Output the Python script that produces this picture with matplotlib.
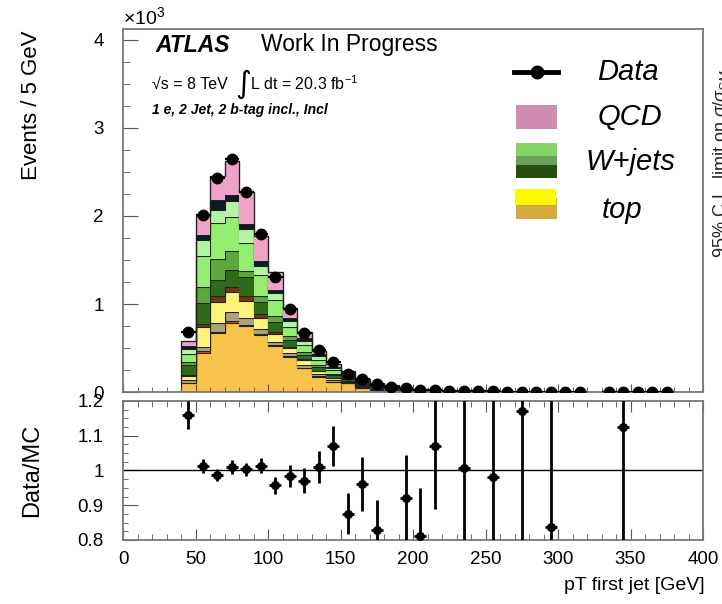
import numpy as np
import matplotlib
matplotlib.use("Agg")
import matplotlib.pyplot as plt
from matplotlib.ticker import MultipleLocator, FormatStrFormatter
from matplotlib.patches import Rectangle
from matplotlib.lines import Line2D

plt.rcParams['font.family'] = ['Liberation Sans', 'DejaVu Sans']
plt.rcParams['mathtext.fontset'] = 'custom'
plt.rcParams['mathtext.rm'] = 'Liberation Sans'
plt.rcParams['mathtext.it'] = 'Liberation Sans:italic'

# stack bins (GeV), 10 GeV wide, 40 -> 210
edges = np.arange(40, 220, 10)

# MC components, in units of 10^3 events (bins 40,50,...,200)
top_main   = [0.100, 0.451, 0.670, 0.784, 0.754, 0.652, 0.527, 0.405, 0.273, 0.178, 0.117, 0.100, 0.050, 0.030, 0.030, 0.020, 0.012]
top_red    = [0.005, 0.019, 0.019, 0.019, 0.012, 0.010, 0.006, 0.004, 0.003, 0.002, 0.001, 0.001, 0.000, 0.000, 0.000, 0.000, 0.000]
top_tan    = [0.030, 0.049, 0.095, 0.102, 0.077, 0.054, 0.043, 0.034, 0.035, 0.030, 0.020, 0.010, 0.008, 0.005, 0.003, 0.002, 0.001]
top_yellow = [0.050, 0.227, 0.235, 0.228, 0.189, 0.125, 0.087, 0.057, 0.056, 0.030, 0.025, 0.010, 0.006, 0.004, 0.002, 0.001, 0.001]
top_brown  = [0.010, 0.027, 0.068, 0.060, 0.057, 0.049, 0.026, 0.019, 0.008, 0.006, 0.004, 0.002, 0.002, 0.001, 0.001, 0.000, 0.000]
wj_dark    = [0.110, 0.238, 0.190, 0.197, 0.220, 0.129, 0.103, 0.076, 0.049, 0.040, 0.030, 0.025, 0.020, 0.012, 0.008, 0.005, 0.003]
wj_med     = [0.040, 0.182, 0.234, 0.208, 0.064, 0.076, 0.068, 0.038, 0.038, 0.020, 0.015, 0.010, 0.006, 0.004, 0.002, 0.001, 0.001]
wj_light   = [0.090, 0.356, 0.409, 0.391, 0.315, 0.238, 0.189, 0.113, 0.076, 0.060, 0.040, 0.020, 0.012, 0.006, 0.004, 0.002, 0.001]
wj_pale    = [0.060, 0.174, 0.152, 0.178, 0.159, 0.103, 0.076, 0.057, 0.049, 0.040, 0.020, 0.010, 0.006, 0.003, 0.002, 0.001, 0.001]
other      = [0.030, 0.065, 0.106, 0.075, 0.057, 0.049, 0.038, 0.038, 0.027, 0.025, 0.020, 0.040, 0.040, 0.040, 0.024, 0.018, 0.012]
qcd        = [0.060, 0.216, 0.280, 0.376, 0.367, 0.284, 0.206, 0.114, 0.073, 0.041, 0.030, 0.012, 0.006, 0.003, 0.002, 0.001, 0.001]

# data, bin centres 45 ... 375 (10^3 events), nan = empty bin
data_x = np.arange(45, 380, 10)
data_y = [0.680, 2.010, 2.430, 2.644, 2.276, 1.800, 1.310, 0.940, 0.667, 0.477,
          0.345, 0.210, 0.150, 0.090, 0.058, 0.047, 0.027, 0.028, 0.020, 0.018,
          0.012, 0.010, 0.008, 0.007, 0.005, 0.004, 0.003, 0.003, np.nan, 0.002,
          0.002, 0.001, 0.001, 0.001]

# Data/MC ratio
ratio_x = [45, 55, 65, 75, 85, 95, 105, 115, 125, 135, 145, 155, 165, 175, 195, 205, 215, 235, 255, 275, 295, 345]
ratio_y = [1.16, 1.012, 0.987, 1.01, 1.003, 1.014, 0.957, 0.984, 0.971, 1.01, 1.07, 0.876, 0.962, 0.829,
           0.922, 0.812, 1.07, 1.006, 0.982, 1.17, 0.836, 1.125]
ratio_err = [0.04, 0.02, 0.018, 0.02, 0.02, 0.022, 0.025, 0.032, 0.037, 0.047, 0.057, 0.06, 0.078, 0.086,
             0.124, 0.138, 0.18, 1.0, 1.0, 1.0, 1.0, 1.0]

layers = [top_main, top_red, top_tan, top_yellow, top_brown, wj_dark, wj_med, wj_light, wj_pale, other, qcd]
colors = ['#F7C34A', '#E04525', '#A9A37C', '#FFF37A', '#6B3A12', '#2F6A1A', '#5DA83A',
          '#93EE72', '#B3F5A2', '#0D1A26', '#F0A3C9']

W, H = 722, 604
fig = plt.figure(figsize=(W / 100, H / 100), dpi=100)
ax1 = fig.add_axes([123 / W, 1 - 392.3 / H, 580 / W, 363.3 / H])
ax2 = fig.add_axes([123 / W, 1 - 540 / H, 580 / W, 139 / H])

# stacked histogram
bottom = np.zeros(len(edges) - 1)
for vals, c in zip(layers, colors):
    top = bottom + np.array(vals)
    ax1.stairs(top, edges, baseline=bottom, fill=True, color=c, lw=0)
    ax1.stairs(top, edges, baseline=None, color='#222222', lw=0.8)
    bottom = top
ax1.stairs(bottom, edges, baseline=0, color='#222222', lw=0.9)

data_y = np.array(data_y)
data_err = np.sqrt(data_y * 1000) / 1000
ax1.errorbar(data_x, data_y, yerr=data_err, xerr=5, fmt='o', color='black',
             ms=7.5, elinewidth=1.6, capsize=0, zorder=5)

ax1.set_xlim(0, 400)
ax1.set_ylim(0, 4.12)
ax1.xaxis.set_major_locator(MultipleLocator(50))
ax1.xaxis.set_minor_locator(MultipleLocator(10))
ax1.yaxis.set_major_locator(MultipleLocator(1))
ax1.yaxis.set_minor_locator(MultipleLocator(0.25))
ax1.yaxis.set_major_formatter(FormatStrFormatter('%g'))
ax1.tick_params(which='both', direction='in', top=False, right=False, labelbottom=False,
                labelsize=13.5, color='#555555')
ax1.tick_params(axis='y', which='major', length=11, pad=14)
ax1.tick_params(axis='y', which='minor', length=5)
ax1.tick_params(axis='x', which='major', length=6)
ax1.tick_params(axis='x', which='minor', length=3.5)

# ratio panel
ax2.axhline(1.0, color='black', lw=1)
ax2.errorbar(ratio_x, ratio_y, yerr=ratio_err, xerr=4, fmt='o', color='black',
             ms=5.5, elinewidth=2, capsize=0, zorder=5)
ax2.set_xlim(0, 400)
ax2.set_ylim(0.8, 1.2)
ax2.xaxis.set_major_locator(MultipleLocator(50))
ax2.xaxis.set_minor_locator(MultipleLocator(10))
ax2.yaxis.set_major_locator(MultipleLocator(0.1))
ax2.yaxis.set_minor_locator(MultipleLocator(0.025))
ax2.yaxis.set_major_formatter(FormatStrFormatter('%g'))
ax2.tick_params(which='both', direction='in', top=True, right=False,
                labelsize=13.5, color='#555555')
ax2.tick_params(axis='y', which='major', length=11, pad=14)
ax2.tick_params(axis='y', which='minor', length=3.5)
ax2.tick_params(axis='x', which='major', length=8, pad=8)
ax2.tick_params(axis='x', which='minor', length=4)

for ax in (ax1, ax2):
    for s in ax.spines.values():
        s.set_color('#777777')
        s.set_linewidth(1.3)


def fx(px):
    return px / W


def fy(py):
    return 1 - py / H


# axis titles
fig.text(fx(32), fy(30), 'Events / 5 GeV', rotation=90, ha='center', va='top', fontsize=16)
fig.text(fx(32), fy(470), 'Data/MC', rotation=90, ha='center', va='center', fontsize=17)
fig.text(fx(705), fy(585), 'pT first jet [GeV]', ha='right', va='center', fontsize=14)
fig.text(fx(123), fy(17), r'$\times$10$^3$', ha='left', va='center', fontsize=14)

# ATLAS label
fig.text(fx(155), fy(45), 'ATLAS', fontsize=16.5, fontweight='bold', fontstyle='italic', va='center')
fig.text(fx(261), fy(45), 'Work In Progress', fontsize=16.5, va='center')
fig.text(fx(152), fy(84), '\u221as = 8 TeV', fontsize=11.5, va='center')
fig.text(fx(235), fy(84), '\u222b', fontsize=22, va='center', family=['DejaVu Sans'])
fig.text(fx(250), fy(84), r'L dt = 20.3 fb$^{-1}$', fontsize=11.5, va='center')
fig.text(fx(152), fy(110), '1 e, 2 Jet, 2 b-tag incl., Incl', fontsize=10,
         fontweight='bold', fontstyle='italic', va='center')

# legend (drawn by hand, ROOT style)
fig.add_artist(Line2D([fx(514), fx(558)], [fy(72), fy(72)], color='black', lw=3.5))
fig.add_artist(Line2D([fx(537)], [fy(72)], marker='o', color='black', ms=9))
leg_boxes = [
    (516, 105, 41, 24, '#CF8DB0'),
    (516, 143, 41, 13, '#84D466'),
    (516, 156, 41, 9, '#6BA05A'),
    (516, 165, 41, 13, '#254D10'),
    (516, 198, 41, 21, '#D4AA3C'),
    (515, 189, 41, 16, '#FFF900'),
]
for x0, y0, w, h, c in leg_boxes:
    fig.add_artist(Rectangle((fx(x0), fy(y0 + h)), w / W, h / H, color=c, lw=0,
                             transform=fig.transFigure))
leg_text = [('Data', 628, 72), ('QCD', 630, 117), ('W+jets', 630, 162), ('top', 622, 210)]
for t, x0, y0 in leg_text:
    fig.text(fx(x0), fy(y0), t, fontsize=21, fontstyle='italic', ha='center', va='center')

# neighbouring plot's title, cut by the image edge as in the original
fig.text(fx(721), fy(258), r'95% C.L. limit on $\sigma/\sigma_{SM}$', rotation=90,
         ha='center', va='bottom', fontsize=13, color='#222222')

fig.savefig('out.png', dpi=100)
